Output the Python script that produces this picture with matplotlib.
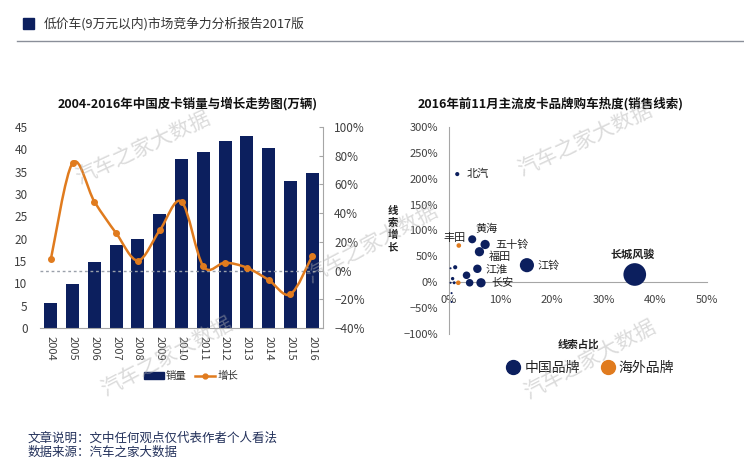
import numpy as np
import matplotlib
matplotlib.use("Agg")
import matplotlib.pyplot as plt
from matplotlib.path import Path
from matplotlib.patches import PathPatch, Rectangle, Patch
from matplotlib.lines import Line2D
from matplotlib.ticker import PercentFormatter, FixedLocator

plt.rcParams['font.family'] = ['Noto Sans CJK SC', 'DejaVu Sans']

# ---------------- data ----------------
years = ['2004', '2005', '2006', '2007', '2008', '2009', '2010',
         '2011', '2012', '2013', '2014', '2015', '2016']
sales = [5.7, 9.9, 14.7, 18.5, 19.9, 25.6, 37.9, 39.5, 41.8, 42.9, 40.3, 33.0, 34.6]
growth = [0.08, 0.75, 0.48, 0.26, 0.07, 0.28, 0.48, 0.03, 0.055, 0.02, -0.065, -0.165, 0.10]

brands = ['长城风骏', '江铃', '五十铃', '福田', '江淮', '长安', '黄海', '北汽', '丰田',
          '', '', '', '', '', '', '', '', '', '']
lead_share = [0.360, 0.151, 0.070, 0.059, 0.055, 0.062, 0.045, 0.016, 0.019,
              0.040, 0.034, 0.012, 0.003, 0.007, 0.010, 0.003, 0.018, 0.005, 0.005]
lead_growth = [0.15, 0.33, 0.73, 0.59, 0.26, -0.01, 0.83, 2.09, 0.71,
               -0.01, 0.135, 0.29, 0.27, 0.07, -0.01, -0.01, -0.01, -0.21, -0.38]
bubble_size = [36, 14, 6, 6, 5, 6, 4.5, 1.2, 1.5,
               4, 4, 1.2, 0.3, 0.8, 0.6, 0.3, 1.5, 0.3, 0.3]
origin = ['中国品牌'] * 19
origin[8] = '海外品牌'
origin[16] = '海外品牌'

# ---------------- style ----------------
NAVY = '#0c1f5e'
ORANGE = '#e07b1e'
GRAY = '#a6a6a6'
TXT = '#404040'

W, H = 744, 462
fig = plt.figure(figsize=(W / 100, H / 100), dpi=100)


def fx(px):
    return px / W


def fy(py):
    return 1 - py / H


# header
fig.patches.append(Rectangle((fx(23), fy(29)), fx(11), 11 / H, transform=fig.transFigure,
                             color=NAVY, zorder=5))
fig.text(fx(44), fy(24), '低价车(9万元以内)市场竞争力分析报告2017版', fontsize=9.2,
         color='#333333', va='center', ha='left')
fig.add_artist(Line2D([fx(17), 1.0], [fy(41), fy(41)], transform=fig.transFigure,
                      color='#8a8f99', lw=1.0))

# ---------------- left chart ----------------
ax1 = fig.add_axes([fx(40), fy(328), fx(283), 201 / H])
x = np.arange(len(years))
ax1.bar(x, sales, width=0.6, color=NAVY, zorder=2, label='销量')
ax1.set_xlim(-0.5, len(years) - 0.5)
ax1.set_ylim(0, 45)
ax1.set_yticks(np.arange(0, 46, 5))
ax1.set_xticks(x)
ax1.set_xticklabels(years, rotation=270, fontsize=8, color=TXT)
ax1.tick_params(axis='y', length=0, pad=9, labelsize=8.5, labelcolor=TXT)
ax1.tick_params(axis='x', length=0, pad=6)
for s in ['left', 'top', 'right']:
    ax1.spines[s].set_visible(False)
ax1.spines['bottom'].set_color(GRAY)

ax1r = ax1.twinx()
ax1r.set_ylim(-0.4, 1.0)
ax1r.set_yticks(np.arange(-0.4, 1.01, 0.2))
ax1r.yaxis.set_major_formatter(PercentFormatter(1.0, decimals=0))
ax1r.tick_params(axis='y', direction='in', length=3, color=GRAY, pad=8,
                 labelsize=8.5, labelcolor=TXT)
for s in ['left', 'top', 'bottom']:
    ax1r.spines[s].set_visible(False)
ax1r.spines['right'].set_color(GRAY)
ax1r.axhline(0, color='#9aa0aa', lw=1.0, ls=(0, (2, 2)), zorder=1)

# smooth growth line (Bezier through the data points)
pts = np.column_stack([x, growth]).astype(float)
n = len(pts)
verts = [tuple(pts[0])]
codes = [Path.MOVETO]
for i in range(n - 1):
    p0 = pts[max(i - 1, 0)]
    p1 = pts[i]
    p2 = pts[i + 1]
    p3 = pts[min(i + 2, n - 1)]
    c1 = p1 + (p2 - p0) / 6
    c2 = p2 - (p3 - p1) / 6
    verts += [tuple(c1), tuple(c2), tuple(p2)]
    codes += [Path.CURVE4] * 3
ax1r.add_patch(PathPatch(Path(verts, codes), facecolor='none', edgecolor=ORANGE,
                         lw=1.8, zorder=4))
ax1r.plot(x, growth, ls='none', marker='o', ms=4, color=ORANGE, zorder=5)

fig.text(fx(188), fy(104), '2004-2016年中国皮卡销量与增长走势图(万辆)', fontsize=9,
         fontweight='bold', ha='center', va='center', color='#111111')

leg_handles = [Patch(facecolor=NAVY, edgecolor=NAVY, label='销量'),
               Line2D([0], [0], color=ORANGE, lw=1.8, marker='o', ms=3.5, label='增长')]
fig.legend(handles=leg_handles, loc='center', bbox_to_anchor=(fx(191), fy(376)),
           ncol=2, frameon=False, fontsize=7.5, handlelength=1.9, handleheight=0.6,
           handletextpad=0.2, columnspacing=0.8, labelcolor='#333333')

# ---------------- right chart ----------------
ax2 = fig.add_axes([fx(449), fy(334), fx(258), 207 / H])
colors = [NAVY if o == '中国品牌' else ORANGE for o in origin]
sizes = [7.4 * b for b in bubble_size]
ax2.scatter(lead_share, lead_growth, s=sizes, c=colors, zorder=3, linewidths=0)
ax2.set_xlim(0, 0.5)
ax2.set_ylim(-1, 3)
ax2.xaxis.set_major_locator(FixedLocator(np.arange(0, 0.51, 0.1)))
ax2.yaxis.set_major_locator(FixedLocator(np.arange(-1, 3.01, 0.5)))
ax2.xaxis.set_major_formatter(PercentFormatter(1.0, decimals=0))
ax2.yaxis.set_major_formatter(PercentFormatter(1.0, decimals=0))
ax2.spines['bottom'].set_position(('data', 0))
ax2.spines['bottom'].set_color(GRAY)
ax2.spines['left'].set_color(GRAY)
ax2.spines['right'].set_visible(False)
ax2.spines['top'].set_visible(False)
ax2.tick_params(axis='both', length=0, labelsize=8, labelcolor=TXT)
ax2.tick_params(axis='y', pad=8)
ax2.tick_params(axis='x', pad=9)

label_off = {
    '长城风骏': (-2, 20, 'center'),
    '江铃': (11, -1, 'left'),
    '五十铃': (10, 0, 'left'),
    '福田': (20, -5, 'center'),
    '江淮': (8, -1, 'left'),
    '长安': (10, 0, 'left'),
    '黄海': (14, 10, 'center'),
    '北汽': (9, 0, 'left'),
    '丰田': (-4, 8, 'center'),
}
for name, xs_, ys_ in zip(brands, lead_share, lead_growth):
    if not name:
        continue
    dx, dy, ha = label_off[name]
    ax2.annotate(name, (xs_, ys_), xytext=(dx, dy), textcoords='offset pixels',
                 ha=ha, va='center', fontsize=8,
                 fontweight='bold' if name == '长城风骏' else 'normal',
                 color='#222222', zorder=4)

fig.text(fx(551), fy(104), '2016年前11月主流皮卡品牌购车热度(销售线索)', fontsize=9,
         fontweight='bold', ha='center', va='center', color='#111111')
fig.text(fx(393), fy(229), '线\n索\n增\n长', fontsize=7.5, fontweight='bold',
         ha='center', va='center', linespacing=1.25, color='#222222')
fig.text(fx(578), fy(345), '线索占比', fontsize=7.5, fontweight='bold',
         ha='center', va='center', color='#222222')

leg2 = [Line2D([0], [0], ls='none', marker='o', ms=10, color=NAVY, label='中国品牌'),
        Line2D([0], [0], ls='none', marker='o', ms=10, color=ORANGE, label='海外品牌')]
fig.legend(handles=leg2, loc='center', bbox_to_anchor=(fx(591), fy(368)), ncol=2,
           frameon=False, fontsize=10, handlelength=0.8, handletextpad=0.4,
           columnspacing=1.6, labelcolor='#222222')

# footer
fig.text(fx(28), fy(438), '文章说明：文中任何观点仅代表作者个人看法', fontsize=9,
         color='#22305a', va='center', ha='left')
fig.text(fx(28), fy(452), '数据来源：汽车之家大数据', fontsize=9,
         color='#22305a', va='center', ha='left')

# watermarks
for cx, cy, ang in [(143, 148, 25), (585, 140, 25), (167, 357, 28), (590, 360, 28),
                    (372, 244, 28)]:
    fig.text(fx(cx), fy(cy), '汽车之家大数据', fontsize=15, rotation=ang,
             rotation_mode='anchor', ha='center', va='center', color='#b0b0b0',
             alpha=0.45, zorder=10)

fig.savefig('out.png', dpi=100)
